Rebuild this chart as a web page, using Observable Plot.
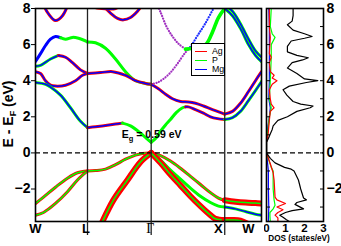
<!DOCTYPE html>
<html><head><meta charset="utf-8">
<script src="https://cdn.jsdelivr.net/npm/d3@7"></script>
<script src="https://cdn.jsdelivr.net/npm/@observablehq/plot@0.6"></script>
<style>
body{margin:0;background:#fff;font-family:"Liberation Sans",Arial,sans-serif;}
#wrap{position:relative;width:341px;height:246px;overflow:hidden;}
#wrap svg{position:absolute;top:0;background:transparent;}
#legend{position:absolute;left:191px;top:43px;width:32px;height:31px;border:1px solid #000;background:#fff;font-size:8.8px;}
#legend .row{position:absolute;left:3px;height:9px;}
#legend .ln{position:absolute;left:0;top:4px;width:12px;height:0;border-top:1.5px solid;}
#legend .tx{position:absolute;left:17px;top:0;line-height:9px;white-space:nowrap;}
</style></head>
<body><div id="wrap"></div>
<script>
// k-path positions (W-L-Γ-X-W, units 2π/a) and labels
const kTicks = [0, 0.707, 1.573, 2.573, 3.073];
const kLabels = ["W", "L", "Γ", "X", "W"];
const eTicks = [-2, 0, 2, 4, 6, 8];
const dosTicks = [0, 1, 2, 3];
const gapText = "0.59 eV";

// bands: [k, E]
const wl1a = [[0,5.06],[0.068,5.5],[0.136,5.95],[0.204,6.3],[0.272,6.45],[0.340,6.38]];
const wl1b = [[0.340,6.38],[0.408,6.3],[0.503,6.4],[0.585,6.35],[0.707,6.15]];
const wl2a = [[0,4.8],[0.068,4.85],[0.204,5.2],[0.313,5.4]];
const wl2b = [[0.313,5.4],[0.408,5.3],[0.503,5.0],[0.612,4.6],[0.707,4.4]];
const wl3 = [[0,4.5],[0.068,4.4],[0.136,4.0],[0.204,3.75],[0.272,3.7],[0.408,3.75],[0.544,4.0],[0.639,4.3],[0.707,4.4]];
const wl4 = [[0,3.9],[0.136,3.8],[0.204,3.65],[0.340,3.2],[0.476,2.5],[0.612,1.75],[0.707,1.4]];
const wlTop = [[0.095,8.3],[0.177,7.7],[0.272,7.33],[0.367,7.6],[0.449,8.3]];
const wlv1 = [[0,-2.8],[0.109,-2.45],[0.272,-1.9],[0.435,-1.4],[0.571,-1.1],[0.707,-1.0]];
const wlv2 = [[0,-3.45],[0.109,-3.3],[0.272,-2.8],[0.435,-2.15],[0.571,-1.5],[0.707,-1.0]];

const lg1 = [[0.707,6.15],[0.816,6.1],[0.952,5.8],[1.088,5.2],[1.224,4.5],[1.360,4.0],[1.496,3.85],[1.573,3.8]];
const lg2 = [[0.707,4.4],[0.884,4.45],[1.047,4.5],[1.224,4.3],[1.360,4.0],[1.496,3.85],[1.573,3.8]];
const lgTop = [[0.884,8.3],[1.020,7.75],[1.115,7.45],[1.196,7.37],[1.292,7.5],[1.387,7.85],[1.468,8.3]];
const lgTop2 = [[0.707,8.3],[0.816,8.05],[0.952,7.98],[1.088,8.0],[1.183,8.3]];
const lgcA = [[0.707,1.4],[0.816,1.45],[0.952,1.52],[1.088,1.6],[1.183,1.65]];
const lgcB = [[1.183,1.65],[1.292,1.5],[1.428,1.1],[1.509,0.8],[1.573,0.59]];
const lgv1 = [[0.707,-1.0],[0.816,-0.98],[0.952,-0.9],[1.088,-0.65],[1.224,-0.35],[1.360,-0.12],[1.455,-0.03],[1.573,0]];
const lgv2 = [[1.573,0],[1.428,-0.5],[1.251,-1.5],[1.061,-2.6],[0.911,-3.8],[0.857,-4.3]];

const gxc1a = [[1.573,0.59],[1.645,0.85],[1.700,1.2],[1.768,1.55],[1.835,1.85],[1.917,2.25],[1.999,2.5],[2.039,2.55]];
const gxc1b = [[2.039,2.55],[2.080,2.55],[2.175,2.4],[2.284,2.2],[2.379,2.0],[2.474,1.9],[2.573,1.85]];
const gxc2 = [[1.573,3.8],[1.672,3.55],[1.768,3.25],[1.863,3.0],[1.971,2.85],[2.080,2.82],[2.175,2.75],[2.284,2.6],[2.407,2.4],[2.573,2.15]];
const gxc3a = [[1.573,3.8],[1.659,3.9],[1.740,4.1],[1.835,4.45],[1.931,4.95],[2.026,5.5],[2.080,5.75]];
const gxc3b = [[2.080,5.75],[2.135,6.05],[2.203,6.5],[2.298,7.1],[2.420,8.0],[2.488,8.5]];
const gxc4a = [[1.632,8.4],[1.700,7.8],[1.781,7.0],[1.863,6.45],[1.944,6.05],[2.039,5.75]];
const gxc4b = [[2.039,5.75],[2.135,5.8],[2.243,5.9],[2.325,6.05],[2.407,6.7],[2.488,7.5],[2.573,8.0]];
const gxv1 = [[1.573,0],[1.700,-0.15],[1.835,-0.45],[1.971,-0.85],[2.107,-1.3],[2.243,-1.75],[2.379,-2.2],[2.488,-2.5],[2.573,-2.62]];
const gxv2 = [[1.573,0],[1.700,-0.4],[1.835,-0.95],[1.971,-1.45],[2.107,-1.95],[2.243,-2.4],[2.379,-2.75],[2.488,-2.95],[2.573,-3.0]];
const gxv3 = [[1.573,0],[1.700,-0.55],[1.835,-1.2],[1.971,-1.8],[2.107,-2.4],[2.243,-2.95],[2.379,-3.45],[2.447,-3.65],[2.573,-3.72]];

const xwc1 = [[2.573,1.85],[2.678,1.95],[2.787,2.3],[2.896,2.9],[2.991,3.45],[3.073,3.95]];
const xwc2 = [[2.573,2.15],[2.678,2.3],[2.787,2.75],[2.896,3.4],[2.991,4.0],[3.073,4.5]];
const xwc3 = [[2.573,8.0],[2.678,7.6],[2.787,6.9],[2.896,6.0],[2.991,5.4],[3.073,5.05]];
const xwc4 = [[2.488,8.5],[2.573,8.2],[2.678,7.85],[2.787,7.15],[2.896,6.3],[2.991,5.65],[3.073,5.3]];
const xwv1 = [[2.573,-2.62],[2.719,-2.7],[2.855,-2.75],[2.991,-2.78],[3.073,-2.8]];
const xwv2 = [[2.573,-3.0],[2.719,-3.1],[2.855,-3.25],[2.991,-3.4],[3.073,-3.45]];
const xwv3 = [[2.573,-3.72],[2.678,-3.72],[2.787,-3.76],[2.896,-3.95]];

// DOS: [E, states/eV]
const dosTotal = [[-3.8,1.2],[-3.7,1.05],[-3.55,0.85],[-3.45,0.7],[-3.3,1.0],[-3.2,1.35],[-3.1,1.95],[-2.85,1.5],[-2.75,1.6],[-2.6,2.1],[-2.5,1.95],[-2.0,1.8],[-1.5,1.68],[-1.0,1.45],[-0.9,1.3],[-0.8,0.95],[-0.55,0.45],[-0.3,0.2],[0,0],[0.59,0],[0.8,0.1],[1.0,0.18],[1.3,0.3],[1.5,0.35],[1.8,0.6],[2.0,1.1],[2.3,1.6],[2.5,2.3],[2.6,2.45],[2.7,1.8],[2.85,1.4],[3.2,1.07],[3.5,0.87],[3.7,1.2],[3.9,2.1],[4.0,2.7],[4.1,2.0],[4.4,1.6],[4.7,1.1],[5.0,1.35],[5.15,1.9],[5.27,2.2],[5.4,1.6],[5.6,1.1],[5.9,1.1],[6.2,1.3],[6.35,2.0],[6.45,2.4],[6.6,2.0],[6.8,1.4],[7.1,1.1],[7.3,1.35],[7.6,1.4],[8.0,1.4]];
const dosAg = [[-3.8,0.6],[-3.6,0.6],[-3.45,0.45],[-3.3,0.6],[-3.15,0.87],[-3.0,0.55],[-2.8,1.0],[-2.6,0.55],[-2.45,0.45],[-1.5,0.4],[-1.1,0.35],[-0.6,0.2],[0,0],[0.59,0],[1.0,0.08],[1.8,0.15],[2.3,0.2],[2.5,0.4],[2.7,0.25],[3.0,0.2],[3.5,0.15],[3.8,0.3],[4.0,0.55],[4.15,0.3],[4.3,0.4],[4.5,0.2],[5.0,0.15],[5.3,0.25],[5.5,0.15],[6.4,0.2],[7.0,0.15],[8.0,0.15]];
const dosP = [[-3.8,0.2],[-3.5,0.18],[-3.3,0.18],[-3.1,0.35],[-2.9,0.45],[-2.6,0.4],[-2.0,0.35],[-1.0,0.35],[-0.8,0.25],[-0.4,0.12],[0,0],[0.59,0],[1.5,0.1],[2.0,0.15],[2.5,0.25],[3.0,0.15],[4.0,0.2],[5.3,0.25],[6.0,0.25],[6.4,0.45],[6.6,0.3],[7.0,0.2],[8.0,0.25]];
const dosMg = [[-3.8,0.1],[-3.0,0.12],[-2.0,0.1],[-1.0,0.1],[-0.5,0.05],[0,0],[0.59,0],[1.5,0.08],[2.0,0.15],[2.5,0.2],[3.0,0.12],[4.0,0.15],[5.0,0.15],[6.0,0.15],[7.0,0.15],[8.0,0.12]];

// ---- styling ----
const col = {Ag: "#ff0000", P: "#00ff00", Mg: "#0000ff", dotAgMg: "#a030c0", dotMg: "#2030ff"};
const labelShift = [0, -1.5, -1, -6.5, -13];
const pieces = [
  [wl1a,"Mg","Mg","s"],[wl1b,"P","P","s"],[wl2a,"P","Mg","s"],[wl2b,"Ag","Mg","s"],[wl3,"Ag","Mg","s"],
  [wl4,"P","Mg","s"],[wlTop,"Ag","Mg","s"],[wlv1,"Ag","P","s"],[wlv2,"Ag","P","s"],
  [lg1,"P","P","s"],[lg2,"Ag","Mg","s"],[lgTop,"Ag","Mg","s"],[lgTop2,"Ag","Mg","s"],
  [lgcA,"Ag","Mg","s"],[lgcB,"P","P","s"],[lgv1,"Ag","P","s"],[lgv2,"Ag","P","f"],
  [gxc1a,"P","P","s"],[gxc1b,"Ag","Mg","s"],[gxc2,"Ag","Mg","s"],
  [gxc3a,"dotAgMg",null,"d"],[gxc3b,"dotMg",null,"d"],[gxc4a,"dotAgMg",null,"d"],[gxc4b,"P","P","g"],
  [gxv1,"Ag","P","s"],[gxv2,"P","P","s"],[gxv3,"Ag","P","f"],
  [xwc1,"P","Mg","s"],[xwc2,"Ag","Mg","s"],[xwc3,"P","Mg","s"],[xwc4,"P","Mg","s"],
  [xwv1,"Ag","P","f"],[xwv2,"P","Mg","s"],[xwv3,"Ag","P","f"]
];
const X = d => d[0], Y = d => d[1];
const bandMarks = [];
for (const [pts, o, i, kind] of pieces) {
  if (kind === "d") {
    bandMarks.push(Plot.line(pts, {x: X, y: Y, stroke: col[o], strokeWidth: 2.2, strokeDasharray: "0.1,2.6", strokeLinecap: "round", curve: "catmull-rom", clip: true}));
  } else {
    const ow = kind === "f" ? 6 : kind === "g" ? 3.6 : 3;
    bandMarks.push(Plot.line(pts, {x: X, y: Y, stroke: col[o], strokeWidth: ow, curve: "catmull-rom", clip: true}));
    bandMarks.push(Plot.line(pts, {x: X, y: Y, stroke: col[i], strokeWidth: 1.5, curve: "catmull-rom", clip: true}));
  }
}
// k-point labels, one text mark each so that each can be nudged
const labelMarks = kTicks.map((k, i) => Plot.text([k], {
  x: d => d, text: () => kLabels[i], frameAnchor: "bottom", lineAnchor: "top", dy: 2, dx: labelShift[i],
  fontSize: kLabels[i] === "Γ" ? 14 : 13,
  fontFamily: kLabels[i] === "Γ" ? "Liberation Serif, serif" : "Liberation Sans, Arial, sans-serif",
  fontWeight: kLabels[i] === "Γ" ? "normal" : "bold", fill: "#000"
}));

const band = Plot.plot({
  width: 263, height: 246, marginLeft: 35, marginRight: 2, marginTop: 8, marginBottom: 25,
  x: {domain: [0, 3.073]}, y: {domain: [-3.8, 8]},
  style: {fontFamily: "Liberation Sans, Arial, sans-serif", fontWeight: "bold", background: "transparent"},
  marks: [
    ...bandMarks,
    Plot.ruleY([0], {stroke: "#000", strokeWidth: 1.2, strokeDasharray: "5,3"}),
    Plot.ruleX(kTicks.slice(1, 4), {stroke: "#222", strokeWidth: 1.3}),
    Plot.frame({stroke: "#000", strokeWidth: 1.6}),
    Plot.axisY({ticks: eTicks, tickSize: 4, tickPadding: 1, fontSize: 14, label: null}),
    Plot.axisX({ticks: kTicks.slice(1, 4), tickSize: 14, tickFormat: () => "", label: null, stroke: "#222", strokeWidth: 1.3}),
    ...labelMarks
  ]
});
band.style.left = "0px";

const dos = Plot.plot({
  width: 77, height: 246, marginLeft: 2, marginRight: 18, marginTop: 8, marginBottom: 25,
  x: {domain: [0, 3]}, y: {domain: [-3.8, 8]},
  style: {fontFamily: "Liberation Sans, Arial, sans-serif", fontWeight: "bold", background: "transparent"},
  marks: [
    Plot.line(dosMg, {x: Y, y: X, stroke: col.Mg, strokeWidth: 1.2, clip: true}),
    Plot.line(dosP, {x: Y, y: X, stroke: col.P, strokeWidth: 1.2, clip: true}),
    Plot.line(dosAg, {x: Y, y: X, stroke: col.Ag, strokeWidth: 1.2, clip: true}),
    Plot.line(dosTotal, {x: Y, y: X, stroke: "#000", strokeWidth: 1.2, clip: true}),
    Plot.ruleY([0], {stroke: "#000", strokeWidth: 1.2, strokeDasharray: "5,3"}),
    Plot.frame({stroke: "#000", strokeWidth: 1.6}),
    Plot.axisY({anchor: "right", ticks: eTicks, tickSize: 0, tickPadding: 3, fontSize: 14, label: null}),
    Plot.axisY({anchor: "right", ticks: d3.range(-3, 9), tickSize: 4, dx: -4, tickFormat: () => "", label: null}),
    Plot.axisY({anchor: "left", ticks: d3.range(-3, 9), tickSize: 4, dx: 4, tickFormat: () => "", label: null}),
    Plot.axisX({ticks: dosTicks, tickSize: 0, tickPadding: 2, tickFormat: d3.format("d"), fontSize: 11.5, label: null})
  ]
});
dos.style.left = "264px";

const wrap = document.getElementById("wrap");
wrap.appendChild(band);
wrap.appendChild(dos);

// axis titles and annotation
const ys = band.scale("y"), xs = band.scale("x");
const t = d3.select(band).append("text")
  .attr("transform", "translate(13,114) rotate(-90)").attr("text-anchor", "middle")
  .attr("font-size", 14).attr("font-weight", "bold").attr("fill", "#000");
t.append("tspan").text("E - E");
t.append("tspan").attr("font-size", 9).attr("dy", 3).text("F");
t.append("tspan").attr("dy", -3).text(" (eV)");

const g = d3.select(band).append("text")
  .attr("x", xs.apply(kTicks[2]) + 1).attr("y", ys.apply(0) - 14.5)
  .attr("font-size", 10.5).attr("font-weight", "bold").attr("fill", "#000");
g.append("tspan").text("E");
g.append("tspan").attr("font-size", 7.5).attr("dy", 3).text("g");
g.append("tspan").attr("dy", -3).text(" = " + gapText);

d3.select(dos).append("text").attr("x", 35).attr("y", 241).attr("text-anchor", "middle")
  .attr("font-size", 8.2).attr("font-weight", "bold").text("DOS (states/eV)");

// legend
const leg = document.createElement("div");
leg.id = "legend";
[["Ag", col.Ag], ["P", col.P], ["Mg", col.Mg]].forEach(([name, c], i) => {
  const r = document.createElement("div");
  r.className = "row"; r.style.top = (3 + i * 9) + "px";
  r.innerHTML = `<div class="ln" style="border-color:${c}"></div><div class="tx">${name}</div>`;
  leg.appendChild(r);
});
wrap.appendChild(leg);
</script>
</body></html>
